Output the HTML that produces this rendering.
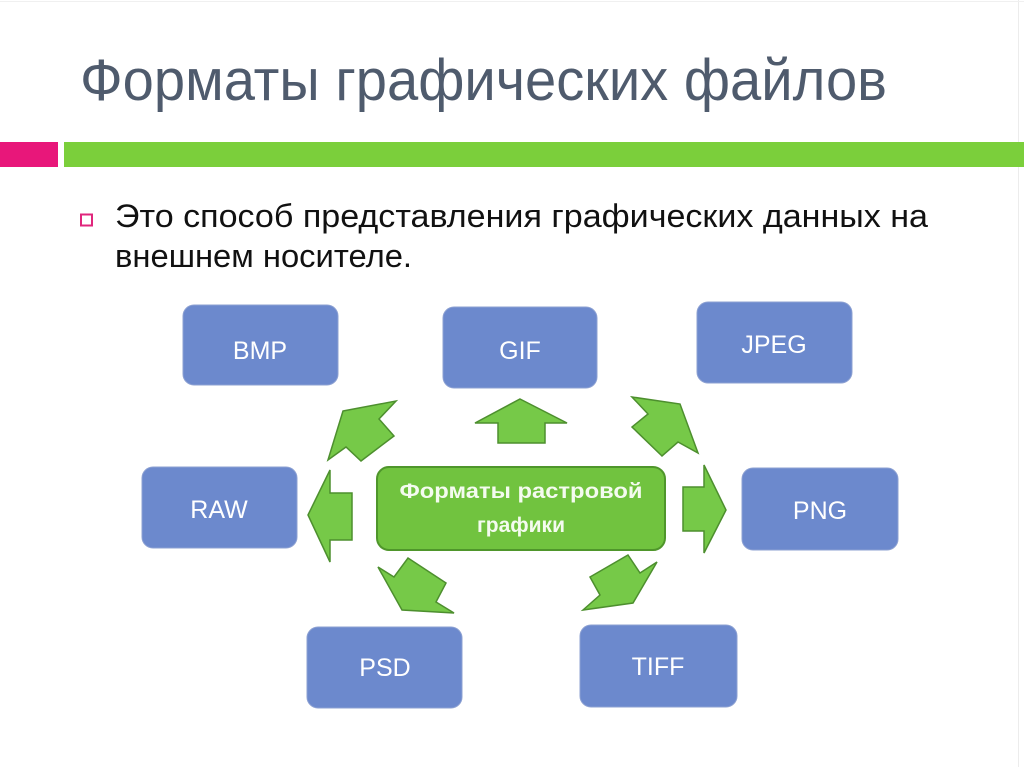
<!DOCTYPE html>
<html>
<head>
<meta charset="utf-8">
<style>
  html, body { margin:0; padding:0; background:#ffffff; }
  body { width:1024px; height:767px; overflow:hidden; }
  svg { display:block; }
  .lbl { font-family:"Liberation Sans", sans-serif; font-size:25px; fill:#ffffff; text-anchor:middle; }
</style>
</head>
<body>
<svg width="1024" height="767" viewBox="0 0 1024 767" xmlns="http://www.w3.org/2000/svg">
  <rect x="0" y="0" width="1024" height="767" fill="#ffffff"/>
  <!-- faint slide frame -->
  <line x1="1018.5" y1="0" x2="1018.5" y2="767" stroke="#ececec" stroke-width="1"/>
  <line x1="0" y1="1.5" x2="1024" y2="1.5" stroke="#f0f0f0" stroke-width="1"/>

  <!-- Title -->
  <text x="80" y="100" font-family="Liberation Sans, sans-serif" font-size="58" fill="#4f5b6d" textLength="807" lengthAdjust="spacingAndGlyphs">Форматы графических файлов</text>

  <!-- bars -->
  <rect x="0" y="142" width="58" height="25" fill="#e8177a"/>
  <rect x="64" y="142" width="960" height="25" fill="#7bcf3b"/>

  <!-- bullet -->
  <rect x="81" y="214.5" width="11" height="11" fill="none" stroke="#e0267c" stroke-width="2"/>

  <!-- body text -->
  <text x="115" y="227" font-family="Liberation Sans, sans-serif" font-size="32" fill="#111111" textLength="813" lengthAdjust="spacingAndGlyphs">Это способ представления графических данных на</text>
  <text x="115" y="267" font-family="Liberation Sans, sans-serif" font-size="32" fill="#111111" textLength="297" lengthAdjust="spacingAndGlyphs">внешнем носителе.</text>

  <!-- blue boxes -->
  <g fill="#6c89cd" stroke="#8da1d2" stroke-width="1">
    <rect x="183" y="305" width="155" height="80" rx="11"/>
    <rect x="443" y="307" width="154" height="81" rx="11"/>
    <rect x="697" y="302" width="155" height="81" rx="11"/>
    <rect x="142" y="467" width="155" height="81" rx="11"/>
    <rect x="742" y="468" width="156" height="82" rx="11"/>
    <rect x="307" y="627" width="155" height="81" rx="11"/>
    <rect x="580" y="625" width="157" height="82" rx="11"/>
  </g>
  <text class="lbl" x="260" y="359">BMP</text>
  <text class="lbl" x="520" y="359">GIF</text>
  <text class="lbl" x="774" y="353">JPEG</text>
  <text class="lbl" x="219" y="518">RAW</text>
  <text class="lbl" x="820" y="519">PNG</text>
  <text class="lbl" x="385" y="676">PSD</text>
  <text class="lbl" x="658" y="675">TIFF</text>

  <!-- center green box -->
  <rect x="377" y="467" width="288" height="83" rx="12" fill="#71c33f" stroke="#4f962b" stroke-width="2"/>
  <text x="521" y="498" font-family="Liberation Sans, sans-serif" font-size="21" font-weight="bold" fill="#f4fbef" text-anchor="middle" textLength="243" lengthAdjust="spacingAndGlyphs">Форматы растровой</text>
  <text x="521" y="532" font-family="Liberation Sans, sans-serif" font-size="21" font-weight="bold" fill="#f4fbef" text-anchor="middle">графики</text>

  <!-- arrows -->
  <g fill="#76c948" stroke="#4d8f2e" stroke-width="1.5" stroke-linejoin="miter">
    <!-- up (GIF) -->
    <polygon points="520,399 567,423 545,423 545,443 498,443 498,423 475,423"/>
    <!-- left (RAW) -->
    <polygon points="308,515 330,470 330,493 352,493 352,540 330,540 330,562"/>
    <!-- right (PNG) -->
    <polygon points="726,510 704,553 704,531 683,531 683,487 704,487 704,465"/>
    <!-- upper-left (BMP) -->
    <polygon points="343,411 396,401 379,419 394,436 361,461 346,447 328,460"/>
    <!-- upper-right (JPEG) -->
    <polygon points="632,397 680,404 698,453 678,442 662,456 632,427 648,414"/>
    <!-- lower-left (PSD) -->
    <polygon points="378,567 394,577 408,558 446,583 436,602 454,613 402,610"/>
    <!-- lower-right (TIFF) -->
    <polygon points="628,555 640,573 657,562 633,603 583,610 600,595 590,577"/>
  </g>
</svg>
</body>
</html>
